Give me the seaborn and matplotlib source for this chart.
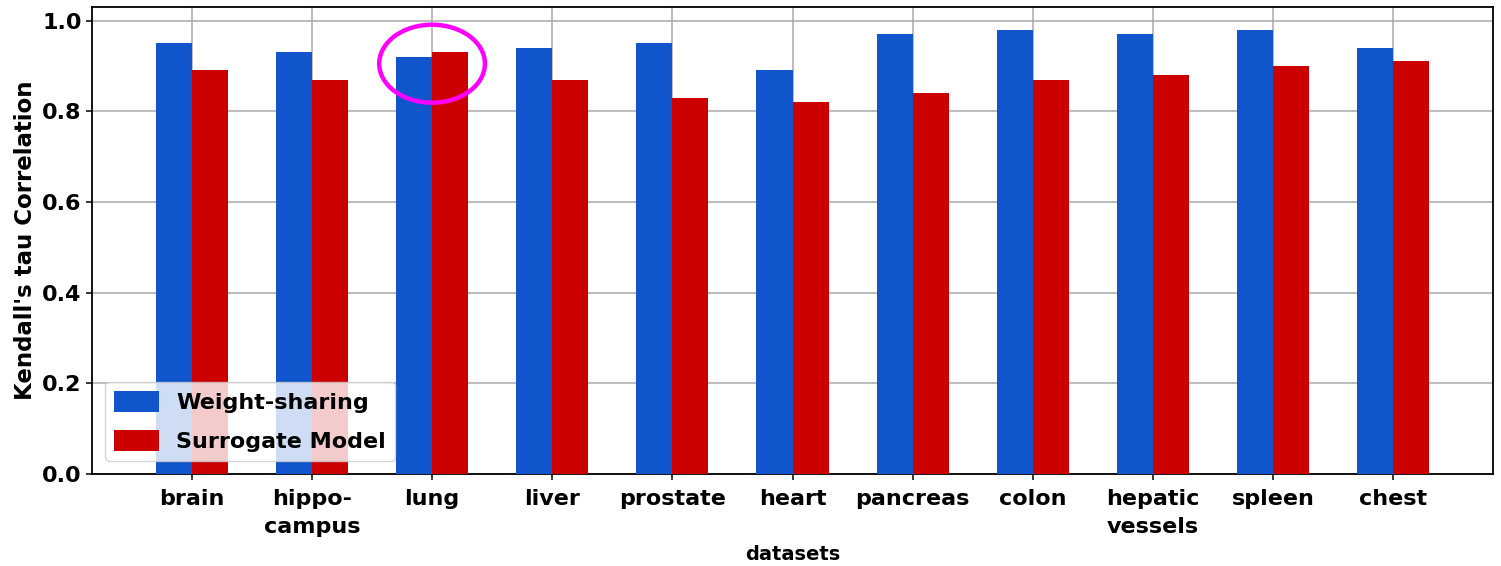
import matplotlib
matplotlib.use("Agg")
import matplotlib.pyplot as plt
from matplotlib.patches import Ellipse
import pandas as pd
import seaborn as sns

datasets = ["brain", "hippo-\ncampus", "lung", "liver", "prostate", "heart",
            "pancreas", "colon", "hepatic\nvessels", "spleen", "chest"]
weight_sharing = [0.95, 0.93, 0.92, 0.94, 0.95, 0.89, 0.97, 0.98, 0.97, 0.98, 0.94]
surrogate_model = [0.89, 0.87, 0.93, 0.87, 0.83, 0.82, 0.84, 0.87, 0.88, 0.90, 0.91]
methods = ["Weight-sharing", "Surrogate Model"]
highlight = "lung"

df = pd.DataFrame({
    "datasets": datasets * 2,
    "value": weight_sharing + surrogate_model,
    "method": [methods[0]] * len(datasets) + [methods[1]] * len(datasets),
})

sns.set_style("ticks")
plt.rcParams["font.family"] = ["DejaVu Sans"]
plt.rcParams["font.weight"] = "bold"
plt.rcParams["text.color"] = "black"
plt.rcParams["axes.labelcolor"] = "black"
plt.rcParams["xtick.color"] = "black"
plt.rcParams["ytick.color"] = "black"

fig, ax = plt.subplots(figsize=(15.01, 5.66), dpi=100)
fig.subplots_adjust(left=0.0613, right=0.9947, top=0.9876, bottom=0.1625)

sns.barplot(data=df, x="datasets", y="value", hue="method", order=datasets,
            hue_order=methods, palette=["#1155cc", "#cc0000"], width=0.6,
            saturation=1, linewidth=0, ax=ax, zorder=3)

ax.set_xlim(-0.83, len(datasets) - 1 + 0.83)
ax.set_ylim(0, 1.03)
ax.set_yticks([0.0, 0.2, 0.4, 0.6, 0.8, 1.0])
ax.grid(True, color="#b0b0b0", linewidth=1.2)
ax.set_axisbelow(True)

for side in ["top", "right", "bottom", "left"]:
    ax.spines[side].set_visible(True)
    ax.spines[side].set_color("black")
    ax.spines[side].set_linewidth(1.3)

ax.tick_params(axis="both", labelsize=16, length=4, width=1.1, colors="black")
ax.tick_params(axis="x", pad=7)
for lbl in ax.get_xticklabels() + ax.get_yticklabels():
    lbl.set_fontweight("bold")
for lbl in ax.get_xticklabels():
    lbl.set_linespacing(1.45)

ax.set_xlabel("datasets", fontsize=14, fontweight="bold", labelpad=6)
ax.set_ylabel("Kendall's tau Correlation", fontsize=16.5, fontweight="bold")
ax.yaxis.set_label_coords(-0.039, 0.5)

leg = ax.legend(loc="lower left", fontsize=16, frameon=True, framealpha=0.8,
                edgecolor="#cccccc", fancybox=True, borderaxespad=0.6,
                handlelength=2.0, handleheight=1.1, labelspacing=0.75)
for t in leg.get_texts():
    t.set_fontweight("bold")
    t.set_color("black")

# highlight ring around the lung pair
i = datasets.index(highlight)
top = max(weight_sharing[i], surrogate_model[i])
ring = Ellipse((i, top - 0.025), width=0.88, height=0.172, fill=False,
               edgecolor="#ff00ff", linewidth=3.2, zorder=5)
ax.add_patch(ring)

fig.savefig("out.png", dpi=100)
